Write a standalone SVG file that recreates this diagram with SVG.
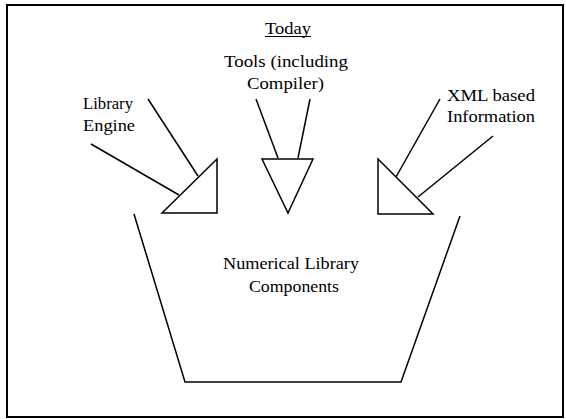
<svg xmlns="http://www.w3.org/2000/svg" width="566" height="419" viewBox="0 0 566 419">
<style>
text{font-family:"Liberation Serif","Times New Roman",serif;font-size:16.5px;fill:#000}
.s{fill:none;stroke:#000;stroke-width:1.5}
.t{fill:#fff;stroke:#000;stroke-width:1.5}
</style>
<rect x="0" y="0" width="566" height="419" fill="#fff"/>
<rect x="7" y="5" width="556" height="412" fill="none" stroke="#000" stroke-width="2"/>
<g id="title">
<text x="265" y="34" textLength="46" lengthAdjust="spacingAndGlyphs">Today</text>
<line x1="265" y1="36.5" x2="311" y2="36.5" stroke="#000" stroke-width="1.2"/>
</g>
<g id="components">
<polyline class="s" points="134,214 185,382 401,382 460,216"/>
<text x="223" y="269" textLength="136" lengthAdjust="spacingAndGlyphs">Numerical Library</text>
<text x="249" y="292" textLength="90" lengthAdjust="spacingAndGlyphs">Components</text>
</g>
<g id="library-engine">
<polygon class="t" points="162,213 217,159 217,213"/>
<text x="83" y="109" textLength="50" lengthAdjust="spacingAndGlyphs">Library</text>
<text x="83" y="131" textLength="52" lengthAdjust="spacingAndGlyphs">Engine</text>
</g>
<g id="tools">
<polygon class="t" points="262,159 313,159 288,213"/>
<text x="224" y="67" textLength="124" lengthAdjust="spacingAndGlyphs">Tools (including</text>
<text x="247" y="89" textLength="77" lengthAdjust="spacingAndGlyphs">Compiler)</text>
</g>
<g id="xml-info">
<polygon class="t" points="378,159 378,214 433,214"/>
<text x="447" y="101" textLength="88" lengthAdjust="spacingAndGlyphs">XML based</text>
<text x="447" y="122" textLength="88" lengthAdjust="spacingAndGlyphs">Information</text>
</g>
<g id="connectors">
<line class="s" x1="91" y1="144" x2="179" y2="195"/>
<line class="s" x1="148" y1="99" x2="198" y2="176"/>
<line class="s" x1="256" y1="99" x2="278" y2="158"/>
<line class="s" x1="310" y1="99" x2="298" y2="158"/>
<line class="s" x1="440" y1="99" x2="396" y2="177"/>
<line class="s" x1="493" y1="136" x2="418" y2="197"/>
</g>
</svg>
